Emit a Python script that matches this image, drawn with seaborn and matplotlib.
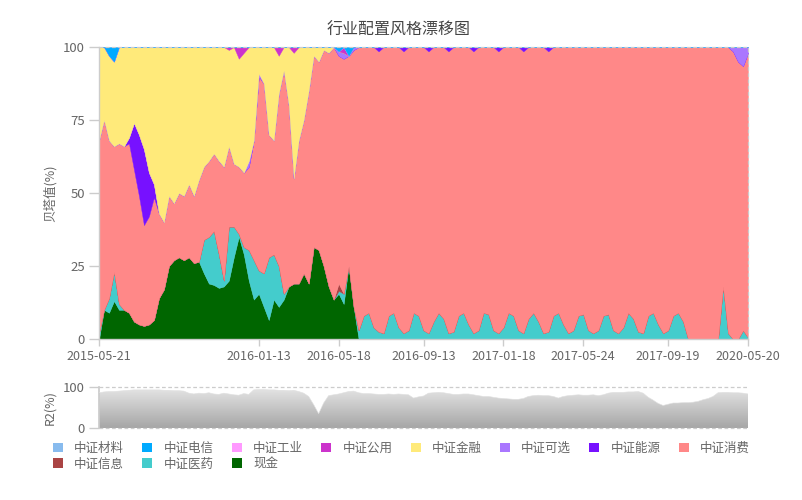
import numpy as np
import pandas as pd
import matplotlib
matplotlib.use("Agg")
import matplotlib.pyplot as plt
import seaborn as sns
from matplotlib.patches import Patch
from matplotlib.colors import LinearSegmentedColormap

sns.set_theme(style="white")
plt.rcParams["font.family"] = ["Noto Sans CJK SC", "DejaVu Sans"]
plt.rcParams["axes.unicode_minus"] = False

# ---------------- data ----------------
title = "行业配置风格漂移图"
legend_names = ["中证材料", "中证电信", "中证工业", "中证公用", "中证金融", "中证可选",
                "中证能源", "中证消费", "中证信息", "中证医药", "现金"]
legend_colors = ["#88bbee", "#00aaff", "#ff99ff", "#cc33cc", "#ffea7a", "#aa77ff",
                 "#7711ff", "#ff8888", "#aa4444", "#44cccc", "#006600"]

tick_labels = ["2015-05-21", "2016-01-13", "2016-05-18", "2016-09-13",
               "2017-01-18", "2017-05-24", "2017-09-19", "2020-05-20"]
tick_index = [0, 32, 48, 65, 81, 97, 114, 130]

cash = [0, 10, 9, 13, 10, 10, 9, 6, 5, 4.5, 5, 6.5, 14, 17, 25, 27, 28, 27, 28, 26,
        26.5, 22.5, 19, 18.5, 17.5, 18, 20, 28, 35, 29, 20, 13.5, 15.5, 11, 6.5, 13.5,
        11, 13.5, 18, 19, 19, 22.5, 19, 31.5, 30.5, 25, 18, 13.5, 15.5, 12, 25, 11, 0] + [0] * 78

pharma = [2, 0, 5, 10, 2, 0, 0, 0, 0, 0, 0, 0, 0, 0, 0, 0, 0, 0, 0, 0,
          0, 11.5, 16, 18.5, 11.5, 2, 18.5, 10.5, 1, 2.5, 10.5, 13.5, 8, 11.5, 21.5, 15.5,
          14, 2, 0, 0, 0, 0, 0, 0, 0, 0, 0, 0, 1, 3.5, 0, 0, 3,
          8, 9, 4, 2.5, 2, 8, 9, 4, 2, 3, 9, 8, 3, 2, 6, 9, 7, 2, 2.5, 8,
          9, 5, 2, 3, 9, 8.5, 3, 2, 4, 9, 8, 3, 2, 7, 9, 6, 2, 2.5, 8, 9,
          5, 2, 3, 8, 8.5, 3, 2, 3, 8, 8.5, 3, 2, 4, 9, 7, 2.5, 2, 8, 9, 5,
          2, 3, 8, 9, 6, 0, 0, 0, 0, 0, 0, 0, 18, 2, 0, 0, 3, 0.5]

info = [0] * 48 + [2.5] + [0] * 82

consumer = [66, 65, 54, 43, 55, 56, 58, 52, 44, 34.5, 37, 42, 29, 23, 24, 19.5, 22, 22, 25, 23,
            28, 25, 26, 26.5, 32, 39, 27.5, 21.5, 23, 25.5, 28.5, 41, 66.5, 65, 42, 39,
            59, 76.5, 62, 36, 49, 52.5, 66, 65.5, 64.5, 74, 80, 86.5, 78, 80.5, 72, 88, 97,
            92, 91, 96, 96, 98, 92, 91, 96, 96.5, 97, 91, 92, 97, 96.5, 94, 91, 93, 96.5,
            97.5, 92, 91, 95, 96.5, 97, 91, 91.5, 97, 96.5, 96, 91, 92, 97, 96.5, 93, 91,
            94, 98, 96, 92, 91, 95, 98, 97, 92, 91.5, 97, 98, 97, 92, 91.5, 97, 98, 96,
            91, 93, 97.5, 98, 92, 91, 95, 98, 97, 92, 91, 94,
            100, 100, 100, 100, 100, 100, 100, 82, 98, 98.5, 95, 90.5, 97.5]

energy = ([0] * 6 + [2, 16, 21, 26, 15, 4.5] + [0] * 44 +
          [1.5, 0, 0, 0, 0, 1.5, 0, 0, 0, 0, 1.5, 0, 0, 0, 1.5, 0, 0, 0, 0, 1.5,
           0, 0, 0, 0, 1.5, 0, 0, 0, 0, 1.5, 0, 0, 0, 0, 1.5] + [0] * 40)

discretionary = ([0] * 30 + [2, 0, 1] + [0] * 15 + [1.5, 2, 0, 1] + [0] * 75 +
                 [1.5, 5, 6.5, 2])

financial = [32, 25, 29, 29, 33, 34, 31, 26, 30, 35, 43, 47, 57, 60, 51, 53.5, 50, 51, 47, 51,
             45.5, 41, 39, 36.5, 39, 41, 33, 40, 37, 41, 39, 32, 9, 12.5, 30, 32,
             13, 8, 20, 43, 32, 25, 15, 3, 5, 1, 2] + [0] * 84

utilities = ([0] * 26 + [1, 0, 4, 2] + [0] * 6 + [3, 0, 0, 2] + [0] * 9 + [2] + [0] * 81)
industrial = [0] * 131
telecom = [0, 0, 3, 5] + [0] * 44 + [1.5, 0, 3] + [0] * 80
materials = [0] * 131

r2 = [86, 88, 89, 89, 90, 91, 92, 93, 93, 93, 93, 93, 93, 92, 92, 91, 91, 90, 85, 83,
      85, 84, 86, 83, 82, 85, 83, 81, 80, 84, 82, 93, 94, 94, 93, 93, 92, 92, 91, 92,
      89, 85, 77, 57, 35, 61, 79, 81, 83, 86, 89, 90, 86, 84, 84, 83, 82, 82, 83, 82,
      83, 82, 81, 73, 76, 78, 85, 86, 87, 86, 84, 82, 82, 83, 83, 81, 79, 77, 77, 75,
      73, 72, 71, 70, 70, 72, 77, 79, 80, 79, 79, 77, 73, 77, 79, 80, 81, 80, 80, 81,
      79, 81, 85, 87, 87, 87, 88, 88, 89, 85, 75, 68, 60, 55, 58, 61, 61, 62, 62, 63,
      65, 69, 72, 77, 86, 87, 87, 86, 86, 85, 83]

series = {
    "中证材料": materials, "中证电信": telecom, "中证工业": industrial, "中证公用": utilities,
    "中证金融": financial, "中证可选": discretionary, "中证能源": energy, "中证消费": consumer,
    "中证信息": info, "中证医药": pharma, "现金": cash,
}
df = pd.DataFrame(series)
df["idx"] = np.arange(len(df))
df["R2"] = r2
color_map = dict(zip(legend_names, legend_colors))
stack_order = legend_names[::-1]  # 现金 at bottom

# ---------------- figure ----------------
W, H = 802, 500
fig = plt.figure(figsize=(W / 100, H / 100), dpi=100)
fig.patch.set_facecolor("white")

ax = fig.add_axes([99 / W, 161 / H, 649 / W, 292 / H])
ax2 = fig.add_axes([99 / W, 72 / H, 649 / W, 41 / H])

grid_c = "#cccccc"
text_c = "#666666"

# top stacked area
polys = ax.stackplot(df["idx"], *[df[n] for n in stack_order],
                     colors=[color_map[n] for n in stack_order], linewidth=0)
for p in polys:
    p.set_edgecolor("face")
    p.set_linewidth(0.3)
ax.set_xlim(0, len(df) - 1)
ax.set_ylim(0, 100)
ax.set_yticks([0, 25, 50, 75, 100])
ax.set_xticks(tick_index)
ax.set_xticklabels(tick_labels)
ax.tick_params(axis="x", colors=grid_c, labelcolor=text_c, labelsize=9, length=5,
               width=1, direction="out", pad=3, bottom=True)
ax.tick_params(axis="y", colors=grid_c, labelcolor=text_c, labelsize=9.5, length=7,
               width=1, direction="out", pad=3, left=True)
for s in ["top", "right"]:
    ax.spines[s].set_visible(False)
for s in ["left", "bottom"]:
    ax.spines[s].set_color(grid_c)
    ax.spines[s].set_linewidth(1)
    ax.spines[s].set_zorder(6)
ax.axhline(100, color=grid_c, lw=0.9, ls=(0, (3, 2)), zorder=5, clip_on=False)
ax.axvline(len(df) - 1, color=grid_c, lw=0.9, ls=(0, (3, 2)), zorder=5, clip_on=False)
ax.set_xlabel("")
ax.set_ylabel("")

# bottom R2 area with gradient
sns.lineplot(data=df, x="idx", y="R2", ax=ax2, color="#e0e0e0", linewidth=0.4, zorder=3)
fb = ax2.fill_between(df["idx"], 0, df["R2"], color="none", linewidth=0)
cmap = LinearSegmentedColormap.from_list("r2grad", ["#a6a6a6", "#e6e6e6"])
grad = np.linspace(0, 1, 256).reshape(-1, 1)
im = ax2.imshow(grad, extent=[0, len(df) - 1, 0, 100], origin="lower", aspect="auto",
                cmap=cmap, zorder=2)
im.set_clip_path(fb.get_paths()[0], transform=ax2.transData)
ax2.set_xlim(0, len(df) - 1)
ax2.set_ylim(0, 100)
ax2.set_yticks([0, 100])
ax2.set_xticks([])
ax2.tick_params(axis="y", colors=grid_c, labelcolor=text_c, labelsize=9.5, length=7,
                width=1, direction="out", pad=3, left=True)
for s in ["top", "right", "bottom"]:
    ax2.spines[s].set_visible(False)
ax2.spines["left"].set_color(grid_c)
ax2.axhline(100, color=grid_c, lw=0.9, ls=(0, (3, 2)), zorder=1, clip_on=False)
ax2.axhline(0, color=grid_c, lw=0.9, ls=(0, (3, 2)), zorder=5, clip_on=False)
ax2.set_xlabel("")
ax2.set_ylabel("")

# texts
fig.text(399 / W, 1 - 30 / H, title, ha="center", va="center", fontsize=11.5, color="#444444")
fig.text(50 / W, 1 - 193 / H, "贝塔值(%)", ha="center", va="center", rotation=90,
         fontsize=9, color=text_c)
fig.text(50 / W, 1 - 408 / H, "R2(%)", ha="center", va="center", rotation=90,
         fontsize=9, color=text_c)

# legend (matplotlib fills column-wise; order handles so rows read as in the legend list)
ncol = 8
first_row = legend_names[:ncol]
second_row = legend_names[ncol:]
ordered = []
for c in range(ncol):
    ordered.append(first_row[c])
    if c < len(second_row):
        ordered.append(second_row[c])
handles = [Patch(facecolor=color_map[n], edgecolor="none", label=n) for n in ordered]
leg = fig.legend(handles=handles, ncol=ncol, loc="upper left",
                 bbox_to_anchor=(53 / W, 1 - 442 / H),
                 frameon=False, fontsize=9, handlelength=0.8, handleheight=0.8,
                 handletextpad=0.9, columnspacing=1.45, labelspacing=0.2,
                 borderpad=0, borderaxespad=0)
for t in leg.get_texts():
    t.set_color(text_c)

fig.savefig("out.png", dpi=100, facecolor="white")
